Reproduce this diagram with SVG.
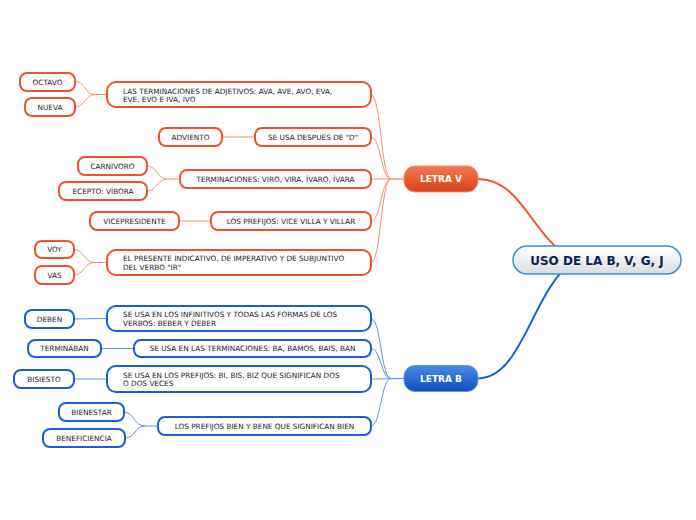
<svg xmlns="http://www.w3.org/2000/svg" width="696" height="520" viewBox="0 0 696 520">
<defs>
<linearGradient id="gc" x1="0" y1="0" x2="0" y2="1"><stop offset="0" stop-color="#ffffff"/><stop offset="1" stop-color="#d9dde1"/></linearGradient>
<linearGradient id="gv" x1="0" y1="0" x2="0" y2="1"><stop offset="0" stop-color="#f47a52"/><stop offset="1" stop-color="#d6431a"/></linearGradient>
<linearGradient id="gb" x1="0" y1="0" x2="0" y2="1"><stop offset="0" stop-color="#4a8ae6"/><stop offset="1" stop-color="#0f4fbf"/></linearGradient>
</defs>
<style>
.o rect{fill:#fff;stroke:#f0522a;stroke-width:2}
.b rect{fill:#fff;stroke:#1560d8;stroke-width:2}
text{font-family:"DejaVu Sans",Verdana,sans-serif;font-size:7.3px;fill:#1a1a1a}
.c{text-anchor:middle}
.lo{fill:none;stroke:#f7916c;stroke-width:1}
.lb{fill:none;stroke:#5b95e6;stroke-width:1}
.m{font-weight:bold;fill:#fff;font-size:9px;text-anchor:middle}
</style>
<g id="connectors">
<path d="M478,179 C522,179 532,238 572,258" fill="none" stroke="#f0522a" stroke-width="2"/>
<path d="M478,378.5 C522,378.5 532,292 572,262" fill="none" stroke="#1560d8" stroke-width="2"/>
<path class="lo" d="M371,94.5 C381,94.5 381,179 391,179 L404,179"/>
<path class="lo" d="M371,137 C381,137 381,179 391,179"/>
<path class="lo" d="M371,179 L404,179"/>
<path class="lo" d="M371,221 C381,221 381,179 391,179"/>
<path class="lo" d="M371,262.5 C381,262.5 381,179 391,179"/>
<path class="lb" d="M371,318.5 C381,318.5 381,378.5 391,378.5 L404,378.5"/>
<path class="lb" d="M371,348.5 C381,348.5 381,378.5 391,378.5"/>
<path class="lb" d="M371,379 L404,378.5"/>
<path class="lb" d="M371,426 C381,426 381,378.5 391,378.5"/>
<path class="lo" d="M75,81.5 C85,81.5 85,94.5 95,94.5 L107,94.5 M75,107 C85,107 85,94.5 95,94.5"/>
<path class="lo" d="M222,137 L255,137"/>
<path class="lo" d="M147,166 C157,166 157,179 167,179 L180,179 M147,191 C157,191 157,179 167,179"/>
<path class="lo" d="M179,221 L211,221"/>
<path class="lo" d="M74,249.5 C84,249.5 84,262.5 94,262.5 L107,262.5 M74,275 C84,275 84,262.5 94,262.5"/>
<path class="lb" d="M74,319 L107,318.5"/>
<path class="lb" d="M101,348.5 L134,348.5"/>
<path class="lb" d="M74,379 L107,379"/>
<path class="lb" d="M124,412 C134,412 134,426 145,426 L158,426 M125,438 C135,438 135,426 145,426"/>
</g>
<g id="central"><rect x="513" y="246" width="168" height="28" rx="14" fill="url(#gc)" stroke="#3a8fd4" stroke-width="1.5"/><text x="597" y="264.5" class="c" style="font-size:12px;font-weight:bold;fill:#0d2350">USO DE LA B, V, G, J</text></g>
<g id="letra-v"><rect x="404" y="166" width="74" height="26" rx="11" fill="url(#gv)" stroke="#f58a64" stroke-width="1"/><text x="441" y="182.3" class="m">LETRA V</text></g>
<g id="letra-b"><rect x="404" y="365.5" width="74" height="26" rx="11" fill="url(#gb)" stroke="#5a96ea" stroke-width="1"/><text x="441" y="381.8" class="m">LETRA B</text></g>
<g id="v1" class="o"><rect x="107" y="82" width="264" height="25" rx="9"/><text x="123" y="93.5">LAS TERMINACIONES DE ADJETIVOS: AVA, AVE, AVO, EVA,</text><text x="123" y="102.3">EVE, EVO E IVA, IVO</text></g>
<g id="v2" class="o"><rect x="255" y="128" width="116" height="18" rx="7"/><text x="313" y="139.6" class="c">SE USA DESPUES DE "D"</text></g>
<g id="v3" class="o"><rect x="180" y="170" width="191" height="18" rx="7"/><text x="275.5" y="181.6" class="c">TERMINACIONES: VIRO, VIRA, ÍVARO, ÍVARA</text></g>
<g id="v4" class="o"><rect x="211" y="212" width="160" height="18" rx="7"/><text x="291" y="223.6" class="c">LOS PREFIJOS: VICE VILLA Y VILLAR</text></g>
<g id="v5" class="o"><rect x="107" y="250" width="264" height="25" rx="9"/><text x="123" y="261.3">EL PRESENTE INDICATIVO, DE IMPERATIVO Y DE SUBJUNTIVO</text><text x="123" y="270.1">DEL VERBO "IR"</text></g>
<g id="octavo" class="o"><rect x="20" y="73" width="55" height="18" rx="7"/><text x="47.5" y="84.6" class="c">OCTAVO</text></g>
<g id="nueva" class="o"><rect x="25" y="98" width="50" height="18" rx="7"/><text x="50" y="109.6" class="c">NUEVA</text></g>
<g id="adviento" class="o"><rect x="159" y="128" width="63" height="18" rx="7"/><text x="190.5" y="139.6" class="c">ADVIENTO</text></g>
<g id="carnivoro" class="o"><rect x="78" y="157" width="69" height="18" rx="7"/><text x="112.5" y="168.6" class="c">CARNIVORO</text></g>
<g id="ecepto" class="o"><rect x="59" y="182" width="88" height="18" rx="7"/><text x="103" y="193.6" class="c">ECEPTO: VÍBORA</text></g>
<g id="vicepresidente" class="o"><rect x="90" y="212" width="89" height="18" rx="7"/><text x="134.5" y="223.6" class="c">VICEPRESIDENTE</text></g>
<g id="voy" class="o"><rect x="35" y="241" width="39" height="17" rx="7"/><text x="54.5" y="252.1" class="c">VOY</text></g>
<g id="vas" class="o"><rect x="35" y="266" width="39" height="18" rx="7"/><text x="54.5" y="277.6" class="c">VAS</text></g>
<g id="b1" class="b"><rect x="107" y="306" width="264" height="25" rx="9"/><text x="123" y="317.3">SE USA EN LOS INFINITIVOS Y TODAS LAS FORMAS DE LOS</text><text x="123" y="326.1">VERBOS: BEBER Y DEBER</text></g>
<g id="b2" class="b"><rect x="134" y="340" width="237" height="17" rx="7"/><text x="252.5" y="351.1" class="c">SE USA EN LAS TERMINACIONES: BA, BAMOS, BAIS, BAN</text></g>
<g id="b3" class="b"><rect x="107" y="366" width="264" height="26" rx="9"/><text x="123" y="377.6">SE USA EN LOS PREFIJOS: BI, BIS, BIZ QUE SIGNIFICAN DOS</text><text x="123" y="386.4">O DOS VECES</text></g>
<g id="b4" class="b"><rect x="158" y="417" width="213" height="18" rx="7"/><text x="264.5" y="428.6" class="c">LOS PREFIJOS BIEN Y BENE QUE SIGNIFICAN BIEN</text></g>
<g id="deben" class="b"><rect x="25" y="310" width="49" height="18" rx="7"/><text x="49.5" y="321.6" class="c">DEBEN</text></g>
<g id="terminaban" class="b"><rect x="28" y="340" width="73" height="17" rx="7"/><text x="64.5" y="351.1" class="c">TERMINABAN</text></g>
<g id="bisiesto" class="b"><rect x="14" y="370" width="60" height="18" rx="7"/><text x="44" y="381.6" class="c">BISIESTO</text></g>
<g id="bienestar" class="b"><rect x="59" y="403" width="65" height="18" rx="7"/><text x="91.5" y="414.6" class="c">BIENESTAR</text></g>
<g id="beneficiencia" class="b"><rect x="43" y="429" width="82" height="18" rx="7"/><text x="84" y="440.6" class="c">BENEFICIENCIA</text></g>
</svg>
